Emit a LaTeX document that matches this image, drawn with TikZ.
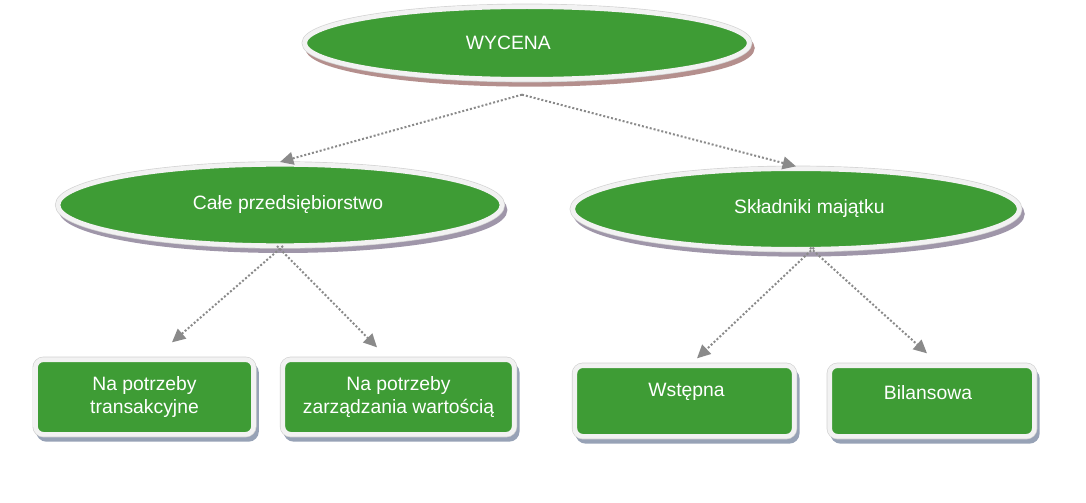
\documentclass[tikz,border=0pt]{standalone}
\usepackage{fontspec}
\setmainfont{Liberation Sans}
\usepackage{tikz}
\usetikzlibrary{positioning, arrows.meta, shapes.geometric}

\definecolor{wgreen}{HTML}{3E9C35}
\definecolor{ringwhite}{HTML}{F2F2F2}
\definecolor{ringgray}{HTML}{D2D2D2}
\definecolor{shrose}{HTML}{B48F8D}
\definecolor{shlilac}{HTML}{9F96A9}
\definecolor{shblue}{HTML}{97A2B6}
\definecolor{arrowgray}{HTML}{8A8A8A}
\newcommand{\nodefont}{\fontsize{14.5pt}{17.5pt}\selectfont}

\begin{document}
\begin{tikzpicture}[
    x=0.75pt, y=-0.75pt,
    every label/.style={text=white, font=\nodefont, inner sep=0pt},
    oval/.style={ellipse, fill=wgreen, draw=ringwhite, line width=3.5pt, inner sep=0pt,
        text=white, font=\nodefont,
        preaction={fill=#1, draw=#1, line width=3.5pt, transform canvas={shift={(2.25pt,-3.75pt)}}},
        preaction={draw=ringgray, line width=4.5pt}},
    card/.style={rectangle, rounded corners=6pt, fill=wgreen, draw=ringwhite, line width=3.5pt,
        inner sep=0pt, text=white, font=\nodefont, align=center,
        preaction={fill=shblue, draw=shblue, line width=3.5pt, transform canvas={shift={(2.25pt,-3.75pt)}}},
        preaction={draw=ringgray, line width=4.5pt}},
    conn/.style={draw=arrowgray, line width=1.5pt, dash pattern=on 1.5pt off 1.5pt,
        -{Triangle[length=10pt, width=9.5pt]}},
]
\useasboundingbox (0,0) rectangle (1086,503);

% Top level
\node[oval=shrose, minimum width=333.5pt, minimum height=54.5pt,
    label={[xshift=-14pt]center:WYCENA}] (wycena) at (527, 43) {};

% Second level
\node[oval=shlilac, minimum width=333pt, minimum height=61pt,
    label={[xshift=6pt]center:Całe przedsiębiorstwo}] (cale) at (280, 205) {};
\node[oval=shlilac, minimum width=335pt, minimum height=60.5pt,
    label={[xshift=10pt]center:Składniki majątku}] (sklad) at (796, 209) {};

% Boxes
\node[card, minimum width=163.5pt, minimum height=56pt] (trans) at (144.5, 397) {Na potrzeby\\transakcyjne};
\node[card, minimum width=173.5pt, minimum height=56pt] (zarz) at (398.5, 397) {Na potrzeby\\zarządzania wartością};
\node[card, minimum width=164.5pt, minimum height=53pt,
    label={[shift={(1.5pt,6.5pt)}]center:Wstępna}] (wstep) at (684.5, 401) {};
\node[card, minimum width=153.5pt, minimum height=53pt,
    label={[shift={(-3pt,6.5pt)}]center:Bilansowa}] (bilans) at (932, 401) {};

% Connectors
\draw[conn] ([shift={(-5,13)}]wycena.south) -- (cale.north);
\draw[conn] ([shift={(-5,13)}]wycena.south) -- (sklad.north);
\draw[conn] ([shift={(3,-2)}]cale.south) -- ([shift={(27.5,-15)}]trans.north);
\draw[conn] ([shift={(-3,-2)}]cale.south) -- ([shift={(-21.5,-10)}]zarz.north);
\draw[conn] ([shift={(18,-4)}]sklad.south) -- ([shift={(12.5,-5)}]wstep.north);
\draw[conn] ([shift={(14,-4)}]sklad.south) -- ([shift={(-5,-10)}]bilans.north);
\end{tikzpicture}
\end{document}
